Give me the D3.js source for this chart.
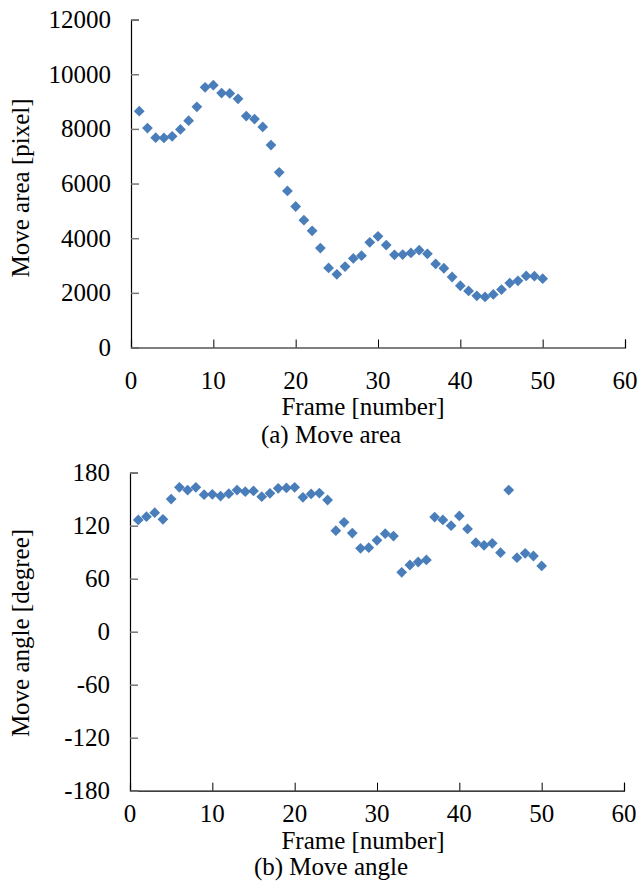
<!doctype html>
<html>
<head>
<meta charset="utf-8">
<title>Move area / Move angle</title>
<script src="https://d3js.org/d3.v7.min.js"></script>
<style>
  body { margin: 0; background: #fff; }
  svg { display: block; }
</style>
</head>
<body>
<script>
// frame numbers (x values for both panels)
var frames = [1, 2, 3, 4, 5, 6, 7, 8, 9, 10,
  11, 12, 13, 14, 15, 16, 17, 18, 19, 20,
  21, 22, 23, 24, 25, 26, 27, 28, 29, 30,
  31, 32, 33, 34, 35, 36, 37, 38, 39, 40,
  41, 42, 43, 44, 45, 46, 47, 48, 49, 50];

// (a) move area in pixels
var moveArea = [8650, 8030, 7680, 7670, 7730, 7980, 8300, 8810, 9520, 9600,
  9310, 9300, 9100, 8470, 8360, 8070, 7410, 6410, 5730, 5160,
  4660, 4270, 3640, 2910, 2680, 2960, 3260, 3360, 3850, 4070,
  3750, 3390, 3400, 3460, 3560, 3430, 3060, 2900, 2580, 2260,
  2070, 1890, 1850, 1940, 2120, 2360, 2440, 2620, 2610, 2520];

// (b) move angle in degrees
var moveAngle = [126.5, 130.2, 134.7, 127.2, 150.2, 163.4, 160.4, 163.4, 155.1, 155.5,
  153.6, 156.3, 160.4, 158.5, 159.3, 152.9, 156.6, 162.3, 162.7, 163.4,
  152.1, 155.9, 157, 149.1, 114.4, 123.8, 111.7, 94.4, 95.1, 103.4,
  111, 108.3, 67.2, 75.5, 78.9, 81.2, 129.8, 126.5, 120, 131,
  116.3, 100.8, 97.8, 100, 89.5, 160.4, 83.8, 88.7, 85.7, 74.4];

var xTicks = [0, 10, 20, 30, 40, 50, 60];
var areaTicks = [0, 2000, 4000, 6000, 8000, 10000, 12000];
var angleTicks = [-180, -120, -60, 0, 60, 120, 180];

var W = 639, H = 886;
var fontSize = 25;
var fontFamily = "'Liberation Serif', 'Times New Roman', 'DejaVu Serif', serif";
var markerColor = "#4a7ebb";

var svg = d3.select("body")
  .append("svg")
  .attr("width", W)
  .attr("height", H);

svg.append("rect")
  .attr("width", W)
  .attr("height", H)
  .attr("fill", "#fff");

function label(g, x, y, anchor, txt) {
  return g.append("text")
    .attr("x", x)
    .attr("y", y)
    .attr("text-anchor", anchor)
    .attr("font-family", fontFamily)
    .attr("font-size", fontSize)
    .attr("fill", "#000")
    .text(txt);
}

function drawPanel(p) {
  var x = d3.scaleLinear().domain([0, 60]).range([p.left, p.right]);
  var y = d3.scaleLinear().domain(p.domain).range([p.bottom, p.top]);

  var g = svg.append("g");

  // x axis: ticks point up into the plot
  var xAxis = g.append("g")
    .attr("transform", "translate(0," + p.bottom + ")")
    .call(d3.axisBottom(x).tickValues(xTicks).tickSize(-8).tickFormat(""));
  xAxis.select(".domain").attr("stroke", "#000").attr("stroke-width", 1.2);
  xAxis.selectAll(".tick line").attr("stroke", "#000");

  // y axis: ticks point right into the plot
  var yAxis = g.append("g")
    .attr("transform", "translate(" + p.left + ",0)")
    .call(d3.axisLeft(y).tickValues(p.ticks).tickSize(-8).tickFormat(""));
  yAxis.select(".domain").attr("stroke", "#000").attr("stroke-width", 1.2);
  yAxis.selectAll(".tick line").attr("stroke", "#777").attr("stroke-width", 1.5);

  // tick labels
  xTicks.forEach(function(d) {
    label(g, x(d), p.xLabelY, "middle", d);
  });
  p.ticks.forEach(function(d) {
    label(g, p.left - 20, y(d), "end", d).attr("dy", "0.34em");
  });

  // titles
  label(g, 0, 0, "middle", p.yTitle)
    .attr("transform", "translate(29," + p.yTitleY + ") rotate(-90)");
  label(g, 363, p.xTitleY, "middle", "Frame [number]");
  label(g, 331, p.captionY, "middle", p.caption);

  // diamond markers
  var diamond = d3.symbol().type(d3.symbolSquare).size(58);
  g.append("g")
    .selectAll("path")
    .data(p.values)
    .enter().append("path")
    .attr("d", diamond)
    .attr("fill", markerColor)
    .attr("transform", function(d, i) {
      return "translate(" + x(frames[i]) + "," + y(d) + ") rotate(45)";
    });
}

drawPanel({
  values: moveArea, domain: [0, 12000], ticks: areaTicks,
  left: 131, right: 625, top: 19.6, bottom: 347.5,
  xLabelY: 389, xTitleY: 415, captionY: 443, yTitleY: 188,
  yTitle: "Move area [pixel]", caption: "(a) Move area"
});

drawPanel({
  values: moveAngle, domain: [-180, 180], ticks: angleTicks,
  left: 130, right: 624, top: 472.7, bottom: 790.7,
  xLabelY: 822, xTitleY: 849, captionY: 875, yTitleY: 633,
  yTitle: "Move angle [degree]", caption: "(b) Move angle"
});
</script>
</body>
</html>
